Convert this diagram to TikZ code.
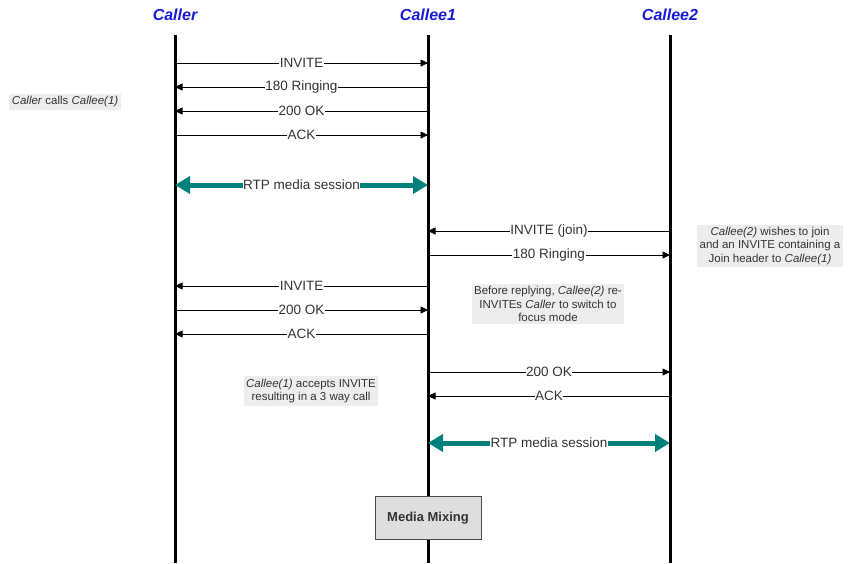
\documentclass[tikz,border=0pt]{standalone}
\usepackage{fontspec}
\setmainfont{Liberation Sans}
\usepackage{tikz}
\usetikzlibrary{arrows.meta,calc}
\definecolor{headblue}{HTML}{1A1AD6}
\definecolor{rtpteal}{HTML}{00807A}
\definecolor{notegray}{HTML}{EDEDED}
\definecolor{textgray}{HTML}{333333}

\tikzset{
  lifeline/.style={line width=3pt},
  msg/.style={-{Triangle[length=7.5pt,width=7pt]},line width=0.8pt,
    every node/.style={fill=white,inner sep=0.5pt,text=textgray,font=\fontsize{13.5}{15}\selectfont}},
  rtp/.style={{Triangle[length=15pt,width=17pt]}-{Triangle[length=15pt,width=17pt]},line width=5pt,rtpteal,
    every node/.style={fill=white,inner sep=0.5pt,text=textgray,font=\fontsize{13.5}{15}\selectfont}},
  notebox/.style={fill=notegray,text=textgray,inner sep=2.5pt,align=center,font=\fontsize{11.5}{13.5}\selectfont},
  head/.style={text=headblue,font=\fontsize{16}{18}\selectfont\bfseries\itshape}
}

\begin{document}
\begin{tikzpicture}[x=1pt,y=-1pt]
    \useasboundingbox (0,0) rectangle (852,563);
    % lifelines
    \node[head] (hcaller) at (175,15) {Caller};
    \node[head] (hcallee1) at (428,15) {Callee1};
    \node[head] (hcallee2) at (670,15) {Callee2};
    \coordinate (caller) at (175,35);
    \coordinate (callee1) at (428,35);
    \coordinate (callee2) at (670,35);
    \draw[lifeline] (caller) -- (caller |- 0,563);
    \draw[lifeline] (callee1) -- (callee1 |- 0,563);
    \draw[lifeline] (callee2) -- (callee2 |- 0,563);
    % first call
    \draw[msg] (caller |- 0,63) -- node{INVITE} (callee1 |- 0,63);
    \draw[msg] (callee1 |- 0,87) -- node{180 Ringing} (caller |- 0,87);
    \draw[msg] (callee1 |- 0,111) -- node{200 OK} (caller |- 0,111);
    \draw[msg] (caller |- 0,135) -- node{ACK} (callee1 |- 0,135);
    \draw[rtp] (caller |- 0,185) -- node{RTP media session} (callee1 |- 0,185);
    % join
    \draw[msg] (callee2 |- 0,231) -- node{INVITE (join)} (callee1 |- 0,231);
    \draw[msg] (callee1 |- 0,255) -- node{180 Ringing} (callee2 |- 0,255);
    \draw[msg] (callee1 |- 0,286) -- node{INVITE} (caller |- 0,286);
    \draw[msg] (caller |- 0,310) -- node{200 OK} (callee1 |- 0,310);
    \draw[msg] (callee1 |- 0,334) -- node{ACK} (caller |- 0,334);
    \draw[msg] (callee1 |- 0,372) -- node{200 OK} (callee2 |- 0,372);
    \draw[msg] (callee2 |- 0,396) -- node{ACK} (callee1 |- 0,396);
    \draw[rtp] (callee1 |- 0,443) -- node{RTP media session} (callee2 |- 0,443);
    % notes
    \node[notebox] (n1) at (65,102) {\textit{Caller} calls \textit{Callee(1)}};
    \node[notebox] (n2) at (770,246) {\textit{Callee(2)} wishes to join\\and an INVITE containing a\\Join header to \textit{Callee(1)}};
    \node[notebox] (n3) at (548,304) {Before replying, \textit{Callee(2)} re-\\INVITEs \textit{Caller} to switch to\\focus mode};
    \node[notebox] (n4) at (311,391) {\textit{Callee(1)} accepts INVITE\\resulting in a 3 way call};
    \node[draw=black!70,fill=black!13,line width=0.8pt,minimum width=106pt,minimum height=43pt,
      font=\fontsize{13}{15}\selectfont\bfseries,text=textgray] (mix) at (428,518) {Media Mixing};
  \end{tikzpicture}
\end{document}
